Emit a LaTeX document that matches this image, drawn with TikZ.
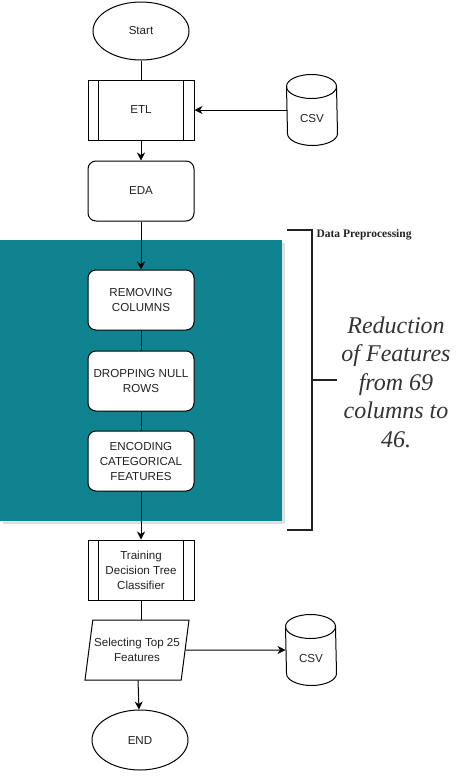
\documentclass[tikz,border=0pt]{standalone}
\usepackage{fontspec}
\setmainfont{Liberation Sans}
\newfontfamily\serifface{Liberation Serif}
\usetikzlibrary{shapes.geometric,arrows.meta,shadows}
\definecolor{tealbox}{RGB}{16,131,144}
\definecolor{inkgrey}{RGB}{34,34,34}
% outline of a data drum round a named node
\newcommand{\drawdrum}[1]{%
  \draw ([yshift=-12pt]#1.north west) arc[start angle=180, end angle=0, x radius=25pt, y radius=12pt]
    -- ([yshift=12pt]#1.south east) arc[start angle=0, end angle=-180, x radius=25pt, y radius=12pt] -- cycle;
  \draw ([yshift=-12pt]#1.north west) arc[start angle=180, end angle=360, x radius=25pt, y radius=12pt];}

\begin{document}
\begin{tikzpicture}[x=1pt, y=-1pt, line width=1pt,
  every node/.style={font=\fontsize{11.6}{15}\selectfont, align=center, text=inkgrey, inner sep=1pt},
  terminal/.style={ellipse, draw, fill=white, minimum width=96pt, minimum height=58pt},
  process/.style={rectangle, draw, fill=white, rounded corners=8pt, minimum width=106pt, minimum height=60pt},
  subproc/.style={rectangle, draw, fill=white, minimum width=106pt, minimum height=60pt},
  datafile/.style={rectangle, minimum width=50pt, minimum height=70pt},
  flow/.style={-{Stealth[length=8pt, width=8pt, inset=2.5pt]}}]
  \useasboundingbox (0,0) rectangle (468,782);
  % grouped preprocessing steps
  \filldraw[fill=tealbox, draw=none, drop shadow={opacity=0.25, shadow xshift=3pt, shadow yshift=-3pt}] (0,240) rectangle (282,521);
  \node[terminal] (Start) at (141,31) {Start};
  \node[subproc] (ETL) at (141,110) {ETL};
  \node[datafile] (CSVin) at (312,110) {\\[10pt]CSV};
  \node[process] (EDA) at (141,191) {EDA};
  \node[process] (Remove) at (141,300) {REMOVING\\COLUMNS};
  \node[process] (Drop) at (141,381) {DROPPING NULL\\ROWS};
  \node[process] (Encode) at (141,461) {ENCODING\\CATEGORICAL\\FEATURES};
  \node[subproc] (Train) at (141,570) {Training\\Decision Tree\\Classifier};
  \node[trapezium, trapezium left angle=73, trapezium right angle=107, draw, fill=white, minimum width=104pt, minimum height=60pt, trapezium stretches body] (Select) at (137,650) {Selecting Top 25\\Features};
  \node[datafile] (CSVout) at (311,650) {\\[10pt]CSV};
  \node[terminal, minimum height=60pt] (End) at (140,740) {END};
  \drawdrum{CSVin}
  \drawdrum{CSVout}
  % side bars of the predefined process boxes
  \draw ([xshift=11pt]ETL.north west) -- ([xshift=11pt]ETL.south west);
  \draw ([xshift=-11pt]ETL.north east) -- ([xshift=-11pt]ETL.south east);
  \draw ([xshift=11pt]Train.north west) -- ([xshift=11pt]Train.south west);
  \draw ([xshift=-11pt]Train.north east) -- ([xshift=-11pt]Train.south east);
  % connectors
  \draw (Start) -- (ETL);
  \draw[flow] (CSVin) -- (ETL);
  \draw[flow] (ETL) -- (EDA);
  \draw[flow] (EDA) -- (Remove);
  \draw (Remove) -- (Drop);
  \draw (Drop) -- (Encode);
  \draw[flow] (Encode) -- (Train);
  \draw (Train) -- (Train |- Select.north);
  \draw[flow] (Select.east) -- (CSVout);
  \draw[flow] (Select) -- (End);
  % bracket and notes
  \coordinate (BrTop) at (287,230);
  \coordinate (BrBot) at (287,530);
  \coordinate (BrTip) at (337,380);
  \draw[line width=2pt, inkgrey] (BrTop) -- ++(25,0) |- (BrBot);
  \draw[line width=2pt, inkgrey] (BrTip) -- ++(-25,0);
  \node[anchor=west, font=\serifface\bfseries\fontsize{11.5}{13}\selectfont] (Label) at (315,235) {Data Preprocessing};
  \node[font=\serifface\itshape\fontsize{24}{28.5}\selectfont, text=black!80] (Note) at (396,382) {Reduction\\of Features\\from 69\\columns to\\46.};
\end{tikzpicture}
\end{document}
